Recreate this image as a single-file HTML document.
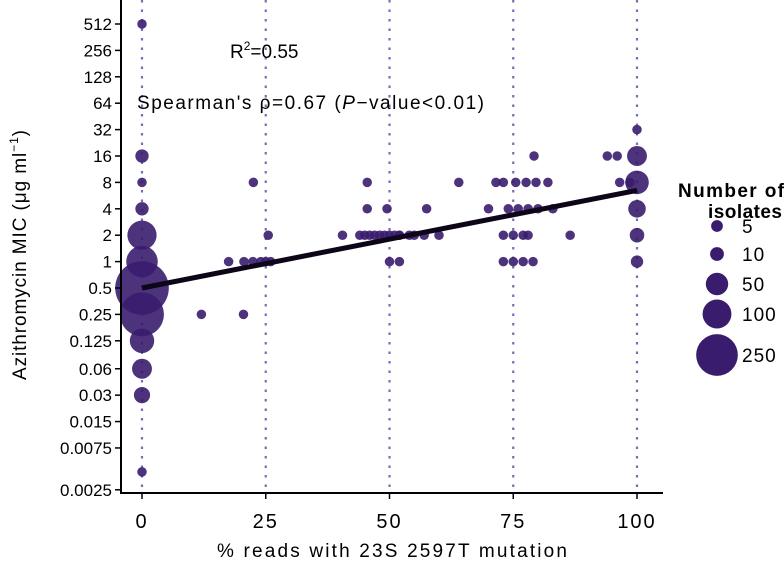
<!DOCTYPE html>
<html><head><meta charset="utf-8"><style>
body{margin:0;background:#fff;}
svg text{font-family:"Liberation Sans",sans-serif;fill:#000;}
</style></head><body>
<svg id="chart" width="784" height="561" viewBox="0 0 784 561" xmlns="http://www.w3.org/2000/svg">
<g id="grid"></g>
<g id="points"></g>
<g id="fit"></g>
<g id="axes"></g>
<g id="legend"></g>
<text x="230" y="58" font-size="19">R<tspan font-size="12" dy="-8">2</tspan><tspan dy="8">=0.55</tspan></text>
<text x="137" y="109" font-size="19" textLength="347" lengthAdjust="spacing">Spearman's ρ=0.67 (<tspan font-style="italic">P</tspan>−value&lt;0.01)</text>
<text x="217" y="557" font-size="19" textLength="350" lengthAdjust="spacing">% reads with 23S 2597T mutation</text>
<text transform="translate(26,380) rotate(-90)" font-size="19" textLength="250" lengthAdjust="spacing">Azithromycin MIC (μg ml<tspan font-size="12" dy="-8">−1</tspan><tspan dy="8">)</tspan></text>
</svg>
<script>
const xTicks=[0,25,50,75,100];
const yTickLabels=["512","256","128","64","32","16","8","4","2","1","0.5","0.25","0.125","0.06","0.03","0.015","0.0075","0.0025"];
const yTickValues=[512,256,128,64,32,16,8,4,2,1,0.5,0.25,0.125,0.06,0.03,0.015,0.0075,0.0025];
const pctReads=[0,0,0,0,0,0,0,0,0,0,0,0,
 12,20.5,17.5,20.6,22.4,24,25,26,22.5,25.5,
 45.5,45.5,49.5,40.5,44,45,46,47,48,49,50,51,52,54,50,52,
 52,55,57,60,57.5,64,
 79.2,94,96,100,
 71.5,73,75.5,77.6,79.6,82,96.5,98.6,100,
 70,74,76,78,80,83,100,
 73,75,77,78,86.5,100,
 73,75,77,79,100,100];
const micValues=[512,16,8,4,2,1,0.5,0.25,0.125,0.06,0.03,0.004,
 0.25,0.25,1,1,1,1,1,1,8,2,
 8,4,4,2,2,2,2,2,2,2,2,2,2,2,1,1,
 2,2,2,2,4,8,
 16,16,16,16,
 8,8,8,8,8,8,8,8,8,
 4,4,4,4,4,4,4,
 2,2,2,2,2,2,
 1,1,1,1,1,32];
const isolateCounts=[1,7,1,7,90,110,400,250,55,30,15,1,
 1,1,1,1,1,1,1,1,1,1,
 1,1,1,1,1,1,1,1,1,1,1,1,1,1,1,1,
 1,1,1,1,1,1,
 1,1,1,30,
 1,1,1,1,1,1,1,1,50,
 1,1,1,1,1,1,20,
 1,1,1,1,1,10,
 1,1,1,1,5,1];
const fitIntercept=-1, fitSlope=0.037;
const legendCounts=[5,10,50,100,250];

const NS="http://www.w3.org/2000/svg";
const X0=142,X1=637,Ytop=24,step=26.4;
const xs=v=>X0+(X1-X0)*v/100;
const ys=v=>Ytop+(9-Math.log2(v))*step;
const rs=n=>3.6+1.16*Math.sqrt(n);
function mk(tag,attrs,parent){const e=document.createElementNS(NS,tag);for(const k in attrs)e.setAttribute(k,attrs[k]);parent.appendChild(e);return e;}
const grid=document.getElementById('grid'),pts=document.getElementById('points'),fit=document.getElementById('fit'),axes=document.getElementById('axes'),leg=document.getElementById('legend');
xTicks.forEach(t=>{const l=mk('line',{x1:xs(t),x2:xs(t),y1:0,y2:493,stroke:'#7a6bb5','stroke-width':2.2,'stroke-dasharray':'2.5 7'},grid);

});
const order=pctReads.map((_,i)=>i).sort((a,b)=>isolateCounts[b]-isolateCounts[a]);
order.forEach(i=>{const c=mk('circle',{cx:xs(pctReads[i]),cy:ys(micValues[i]),r:rs(isolateCounts[i]),fill:'#3a1c6e','fill-opacity':0.9},pts);

});
const fl=mk('line',{x1:xs(0),y1:ys(Math.pow(2,fitIntercept)),x2:xs(100),y2:ys(Math.pow(2,fitIntercept+fitSlope*100)),stroke:'#0d0618','stroke-width':5},fit);


mk('line',{x1:121,x2:121,y1:0,y2:494,stroke:'#000','stroke-width':2},axes);
mk('line',{x1:120,x2:663,y1:493,y2:493,stroke:'#000','stroke-width':2},axes);
yTickValues.forEach((v,i)=>{const y=ys(v);mk('line',{x1:115,x2:121,y1:y,y2:y,stroke:'#000','stroke-width':1.5},axes);
const t=mk('text',{x:112,y:y+6,'font-size':17,'text-anchor':'end'},axes);t.textContent=yTickLabels[i];

});
xTicks.forEach(v=>{const x=xs(v);mk('line',{x1:x,x2:x,y1:493,y2:499,stroke:'#000','stroke-width':1.5},axes);
const t=mk('text',{x:x,y:528,'font-size':20,'text-anchor':'middle','letter-spacing':2},axes);t.textContent=v;

});
const t1=mk('text',{x:678,y:197,'font-size':19,'font-weight':'bold',textLength:106,lengthAdjust:'spacing'},leg);t1.textContent='Number of';


const t2=mk('text',{x:708,y:218,'font-size':19,'font-weight':'bold',textLength:74,lengthAdjust:'spacing'},leg);t2.textContent='isolates';
const ly=[226,254,284,314,355];
legendCounts.forEach((n,i)=>{const c=mk('circle',{cx:717,cy:ly[i],r:rs(n)*0.95,fill:'#3a1c6e'},leg);


const t=mk('text',{x:742,y:ly[i]+7,'font-size':19,'letter-spacing':1},leg);t.textContent=n;});
</script>
</body></html>
